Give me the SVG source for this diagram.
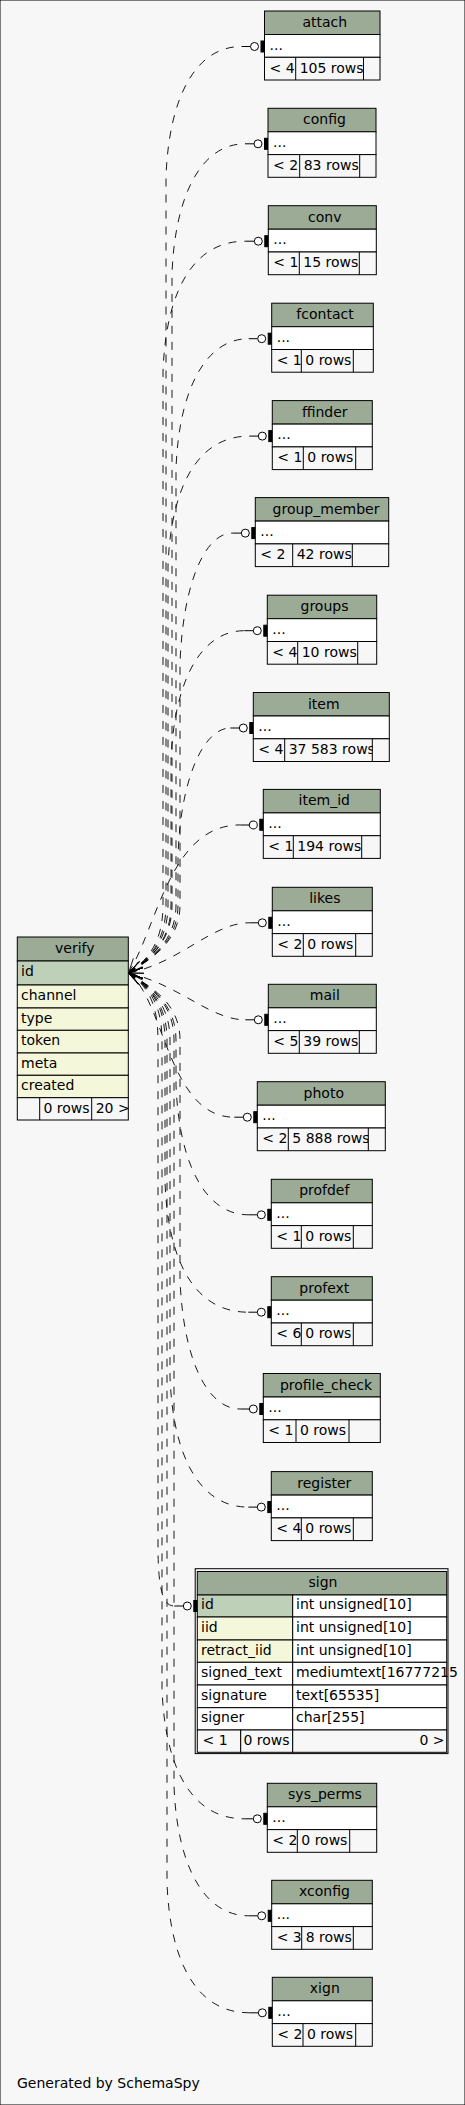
<svg xmlns="http://www.w3.org/2000/svg" width="465" height="2105" viewBox="0 0 465 2105">
<defs>
<style>
text{font-family:"DejaVu Sans","Liberation Sans",sans-serif;font-size:14px;fill:#000}
.c{text-anchor:middle}
.e{text-anchor:end}
rect{stroke:#000;stroke-width:1}
.hd{fill:#9bab96}
.pk{fill:#bed1b8}
.ix{fill:#f4f7da}
.bd{fill:#ffffff}
.ft{fill:#f7f7f7}
line{stroke:#000;stroke-width:1}
.edge{fill:none;stroke:#000;stroke-width:0.9;stroke-dasharray:8,8;marker-start:url(#crow);marker-end:url(#tee)}
</style>
<marker id="tee" markerUnits="userSpaceOnUse" orient="auto" refX="0" refY="0" markerWidth="30" markerHeight="14" viewBox="0 -7 30 14" overflow="visible">
<path d="M0,0H9" stroke="#000" fill="none"/>
<circle cx="13" cy="0" r="4" fill="#fff" stroke="#000" stroke-width="1"/>
<rect x="19.5" y="-5.5" width="3.5" height="11" fill="#000" stroke="none"/>
</marker>
<marker id="crow" markerUnits="userSpaceOnUse" orient="auto" refX="0" refY="0" markerWidth="16" markerHeight="14" viewBox="0 -7 16 14" overflow="visible">
<path d="M0,0L15,-3.5M0,0L15,3.5" stroke="#000" fill="none" stroke-width="0.8"/>
</marker>
<clipPath id="clipItem"><rect x="284.7" y="738.8" width="87.6" height="22.7"/></clipPath>
<clipPath id="clipPhoto"><rect x="288.3" y="1128" width="80" height="22.7"/></clipPath>
</defs>
<rect x="0" y="0" width="465" height="2105" fill="#f7f7f7" stroke="none"/>

<g id="connectors">
<path class="edge" d="M128.5,973 C145,962 166,945 166,905 L166,176.5 C169,96.5 196,46.5 241.5,46.5"/>
<path class="edge" d="M128.5,973 C145,962 172,945 172,905 L172,273.8 C175,193.8 202,143.8 245,143.8"/>
<path class="edge" d="M128.5,973 C145,962 163,945 163,905 L163,371.2 C166,291.2 193,241.2 245.3,241.2"/>
<path class="edge" d="M128.5,973 C145,962 176,945 176,905 L176,468.7 C179,388.7 206,338.7 248.7,338.7"/>
<path class="edge" d="M128.5,973 C145,962 168,945 168,905 L168,566.1 C171,486.1 198,436.1 249.3,436.1"/>
<path class="edge" d="M128.5,973 C145,962 180,945 180,905 L180,663.1 C183,583.1 205,533.1 232.3,533.1"/>
<path class="edge" d="M128.5,973 C145,962 171,945 171,905 L171,760.7 C174,680.7 201,630.7 244.3,630.7"/>
<path class="edge" d="M128.5,973 C145,962 178,945 178,905 L178,858 C180,778 204,728 230.3,728"/>
<path class="edge" d="M128.5,973 C158,925 170,825 240.3,824.9"/>
<path class="edge" d="M128.5,973 C180,963 212,922.8 249.3,922.8"/>
<path class="edge" d="M128.5,973 C180,985 210,1019.8 245.3,1019.8"/>
<path class="edge" d="M128.5,973 C165,1000 168,1117.2 234.3,1117.2"/>
<path class="edge" d="M128.5,973 C145,984 176,1000 176,1040 L176,1084.8 C179,1164.8 206,1214.8 248.3,1214.8"/>
<path class="edge" d="M128.5,973 C145,984 165,1000 165,1040 L165,1182.2 C168,1262.2 195,1312.2 248.3,1312.2"/>
<path class="edge" d="M128.5,973 C145,984 180,1000 180,1040 L180,1279 C183,1359 207,1409 240.3,1409"/>
<path class="edge" d="M128.5,973 C145,984 170,1000 170,1040 L170,1377.1 C173,1457.1 200,1507.1 248.3,1507.1"/>
<path class="edge" d="M128.5,973 C145,984 158,1000 158,1040 L158,1545 C158,1590 163,1606 174.3,1606"/>
<path class="edge" d="M128.5,973 C145,984 162,1000 162,1040 L162,1688.8 C165,1768.8 192,1818.8 244.3,1818.8"/>
<path class="edge" d="M128.5,973 C145,984 174,1000 174,1040 L174,1785.8 C177,1865.8 204,1915.8 248.7,1915.8"/>
<path class="edge" d="M128.5,973 C145,984 167,1000 167,1040 L167,1882.8 C170,1962.8 197,2012.8 249.3,2012.8"/>
</g>

<g id="verify">
<rect class="hd" x="17.3" y="937" width="111" height="24"/>
<rect class="pk" x="17.3" y="961" width="111" height="24"/>
<rect class="ix" x="17.3" y="985" width="111" height="23"/>
<rect class="ix" x="17.3" y="1008" width="111" height="22.3"/>
<rect class="ix" x="17.3" y="1030.3" width="111" height="22.7"/>
<rect class="ix" x="17.3" y="1053" width="111" height="22.3"/>
<rect class="ix" x="17.3" y="1075.3" width="111" height="22.4"/>
<rect class="ft" x="17.3" y="1097.7" width="111" height="22.3"/>
<text class="c" x="74.8" y="953">verify</text>
<text x="21" y="975.5">id</text>
<text x="21" y="999.5">channel</text>
<text x="21" y="1022.5">type</text>
<text x="21" y="1045">token</text>
<text x="21" y="1067.5">meta</text>
<text x="21" y="1090">created</text>
<text x="43.5" y="1112.5">0 rows</text>
<text x="95.7" y="1112.5">20 &gt;</text>
<line x1="39.7" y1="1097.7" x2="39.7" y2="1120"/>
<line x1="91.7" y1="1097.7" x2="91.7" y2="1120"/>
</g>

<g id="attach">
<rect class="hd" x="264.5" y="11" width="115.5" height="23.5"/>
<rect class="bd" x="264.5" y="34.5" width="115.5" height="22.8"/>
<rect class="ft" x="264.5" y="57.3" width="115.5" height="22.7"/>
<text class="c" x="324.8" y="27">attach</text>
<text x="269.5" y="49.5">...</text>
<text x="269.5" y="72.5">&lt; 4</text>
<text x="299.7" y="72.5">105 rows</text>
<line x1="295.7" y1="57.3" x2="295.7" y2="80"/>
<line x1="363.5" y1="57.3" x2="363.5" y2="80"/>
</g>

<g id="config">
<rect class="hd" x="268" y="108.3" width="108" height="23.5"/>
<rect class="bd" x="268" y="131.8" width="108" height="22.8"/>
<rect class="ft" x="268" y="154.6" width="108" height="22.7"/>
<text class="c" x="324.5" y="124.3">config</text>
<text x="273" y="146.8">...</text>
<text x="273" y="169.8">&lt; 2</text>
<text x="303.7" y="169.8">83 rows</text>
<line x1="299.7" y1="154.6" x2="299.7" y2="177.3"/>
<line x1="359.7" y1="154.6" x2="359.7" y2="177.3"/>
</g>

<g id="conv">
<rect class="hd" x="268.3" y="205.7" width="108" height="23.5"/>
<rect class="bd" x="268.3" y="229.2" width="108" height="22.8"/>
<rect class="ft" x="268.3" y="252" width="108" height="22.7"/>
<text class="c" x="324.8" y="221.7">conv</text>
<text x="273.3" y="244.2">...</text>
<text x="273.3" y="267.2">&lt; 1</text>
<text x="303.3" y="267.2">15 rows</text>
<line x1="299.3" y1="252" x2="299.3" y2="274.7"/>
<line x1="359.3" y1="252" x2="359.3" y2="274.7"/>
</g>

<g id="fcontact">
<rect class="hd" x="271.7" y="303.2" width="101.6" height="23.5"/>
<rect class="bd" x="271.7" y="326.7" width="101.6" height="22.8"/>
<rect class="ft" x="271.7" y="349.5" width="101.6" height="22.7"/>
<text class="c" x="325" y="319.2">fcontact</text>
<text x="276.7" y="341.7">...</text>
<text x="276.7" y="364.7">&lt; 1</text>
<text x="305.3" y="364.7">0 rows</text>
<line x1="301.3" y1="349.5" x2="301.3" y2="372.2"/>
<line x1="353.3" y1="349.5" x2="353.3" y2="372.2"/>
</g>

<g id="ffinder">
<rect class="hd" x="272.3" y="400.6" width="100" height="23.5"/>
<rect class="bd" x="272.3" y="424.1" width="100" height="22.8"/>
<rect class="ft" x="272.3" y="446.9" width="100" height="22.7"/>
<text class="c" x="324.8" y="416.6">ffinder</text>
<text x="277.3" y="439.1">...</text>
<text x="277.3" y="462.1">&lt; 1</text>
<text x="307.3" y="462.1">0 rows</text>
<line x1="303.3" y1="446.9" x2="303.3" y2="469.6"/>
<line x1="355.7" y1="446.9" x2="355.7" y2="469.6"/>
</g>

<g id="group_member">
<rect class="hd" x="255.3" y="497.6" width="133.4" height="23.5"/>
<rect class="bd" x="255.3" y="521.1" width="133.4" height="22.8"/>
<rect class="ft" x="255.3" y="543.9" width="133.4" height="22.7"/>
<text class="c" x="326" y="513.6">group_member</text>
<text x="260.3" y="536.1">...</text>
<text x="260.3" y="559.1">&lt; 2</text>
<text x="296.7" y="559.1">42 rows</text>
<line x1="292.7" y1="543.9" x2="292.7" y2="566.6"/>
<line x1="352.3" y1="543.9" x2="352.3" y2="566.6"/>
</g>

<g id="groups">
<rect class="hd" x="267.3" y="595.2" width="109.4" height="23.5"/>
<rect class="bd" x="267.3" y="618.7" width="109.4" height="22.8"/>
<rect class="ft" x="267.3" y="641.5" width="109.4" height="22.7"/>
<text class="c" x="324.5" y="611.2">groups</text>
<text x="272.3" y="633.7">...</text>
<text x="272.3" y="656.7">&lt; 4</text>
<text x="301.7" y="656.7">10 rows</text>
<line x1="297.7" y1="641.5" x2="297.7" y2="664.2"/>
<line x1="357.7" y1="641.5" x2="357.7" y2="664.2"/>
</g>

<g id="item">
<rect class="hd" x="253.3" y="692.5" width="136" height="23.5"/>
<rect class="bd" x="253.3" y="716" width="136" height="22.8"/>
<rect class="ft" x="253.3" y="738.8" width="136" height="22.7"/>
<text class="c" x="323.8" y="708.5">item</text>
<text x="258.3" y="731">...</text>
<text x="258.3" y="754">&lt; 4</text>
<text x="288.7" y="754" clip-path="url(#clipItem)">37 583 rows</text>
<line x1="284.7" y1="738.8" x2="284.7" y2="761.5"/>
<line x1="372.3" y1="738.8" x2="372.3" y2="761.5"/>
</g>

<g id="item_id">
<rect class="hd" x="263.3" y="789.4" width="117" height="23.5"/>
<rect class="bd" x="263.3" y="812.9" width="117" height="22.8"/>
<rect class="ft" x="263.3" y="835.7" width="117" height="22.7"/>
<text class="c" x="324.3" y="805.4">item_id</text>
<text x="268.3" y="827.9">...</text>
<text x="268.3" y="850.9">&lt; 1</text>
<text x="297.3" y="850.9">194 rows</text>
<line x1="293.3" y1="835.7" x2="293.3" y2="858.4"/>
<line x1="361.7" y1="835.7" x2="361.7" y2="858.4"/>
</g>

<g id="likes">
<rect class="hd" x="272.3" y="887.3" width="100" height="23.5"/>
<rect class="bd" x="272.3" y="910.8" width="100" height="22.8"/>
<rect class="ft" x="272.3" y="933.6" width="100" height="22.7"/>
<text class="c" x="324.8" y="903.3">likes</text>
<text x="277.3" y="925.8">...</text>
<text x="277.3" y="948.8">&lt; 2</text>
<text x="307.3" y="948.8">0 rows</text>
<line x1="303.3" y1="933.6" x2="303.3" y2="956.3"/>
<line x1="355.7" y1="933.6" x2="355.7" y2="956.3"/>
</g>

<g id="mail">
<rect class="hd" x="268.3" y="984.3" width="108" height="23.5"/>
<rect class="bd" x="268.3" y="1007.8" width="108" height="22.8"/>
<rect class="ft" x="268.3" y="1030.6" width="108" height="22.7"/>
<text class="c" x="324.8" y="1000.3">mail</text>
<text x="273.3" y="1022.8">...</text>
<text x="273.3" y="1045.8">&lt; 5</text>
<text x="303.3" y="1045.8">39 rows</text>
<line x1="299.3" y1="1030.6" x2="299.3" y2="1053.3"/>
<line x1="359.3" y1="1030.6" x2="359.3" y2="1053.3"/>
</g>

<g id="photo">
<rect class="hd" x="257.3" y="1081.7" width="128" height="23.5"/>
<rect class="bd" x="257.3" y="1105.2" width="128" height="22.8"/>
<rect class="ft" x="257.3" y="1128" width="128" height="22.7"/>
<text class="c" x="323.8" y="1097.7">photo</text>
<text x="262.3" y="1120.2">...</text>
<text x="262.3" y="1143.2">&lt; 2</text>
<text x="292.3" y="1143.2" clip-path="url(#clipPhoto)">5 888 rows</text>
<line x1="288.3" y1="1128" x2="288.3" y2="1150.7"/>
<line x1="368.3" y1="1128" x2="368.3" y2="1150.7"/>
</g>

<g id="profdef">
<rect class="hd" x="271.3" y="1179.3" width="101" height="23.5"/>
<rect class="bd" x="271.3" y="1202.8" width="101" height="22.8"/>
<rect class="ft" x="271.3" y="1225.6" width="101" height="22.7"/>
<text class="c" x="324.3" y="1195.3">profdef</text>
<text x="276.3" y="1217.8">...</text>
<text x="276.3" y="1240.8">&lt; 1</text>
<text x="305.3" y="1240.8">0 rows</text>
<line x1="301.3" y1="1225.6" x2="301.3" y2="1248.3"/>
<line x1="353.3" y1="1225.6" x2="353.3" y2="1248.3"/>
</g>

<g id="profext">
<rect class="hd" x="271.3" y="1276.7" width="101" height="23.5"/>
<rect class="bd" x="271.3" y="1300.2" width="101" height="22.8"/>
<rect class="ft" x="271.3" y="1323" width="101" height="22.7"/>
<text class="c" x="324.3" y="1292.7">profext</text>
<text x="276.3" y="1315.2">...</text>
<text x="276.3" y="1338.2">&lt; 6</text>
<text x="305.3" y="1338.2">0 rows</text>
<line x1="301.3" y1="1323" x2="301.3" y2="1345.7"/>
<line x1="353.3" y1="1323" x2="353.3" y2="1345.7"/>
</g>

<g id="profile_check">
<rect class="hd" x="263.3" y="1373.5" width="117" height="23.5"/>
<rect class="bd" x="263.3" y="1397" width="117" height="22.8"/>
<rect class="ft" x="263.3" y="1419.8" width="117" height="22.7"/>
<text class="c" x="326" y="1389.5">profile_check</text>
<text x="268.3" y="1412">...</text>
<text x="268.3" y="1435">&lt; 1</text>
<text x="300" y="1435">0 rows</text>
<line x1="296" y1="1419.8" x2="296" y2="1442.5"/>
<line x1="349" y1="1419.8" x2="349" y2="1442.5"/>
</g>

<g id="register">
<rect class="hd" x="271.3" y="1471.6" width="101" height="23.5"/>
<rect class="bd" x="271.3" y="1495.1" width="101" height="22.8"/>
<rect class="ft" x="271.3" y="1517.9" width="101" height="22.7"/>
<text class="c" x="324.3" y="1487.6">register</text>
<text x="276.3" y="1510.1">...</text>
<text x="276.3" y="1533.1">&lt; 4</text>
<text x="305.3" y="1533.1">0 rows</text>
<line x1="301.3" y1="1517.9" x2="301.3" y2="1540.6"/>
<line x1="353.3" y1="1517.9" x2="353.3" y2="1540.6"/>
</g>

<g id="sign">
<rect x="195.2" y="1568.7" width="252.8" height="184.9" fill="none" stroke="#000" stroke-width="3"/>
<rect class="hd" x="197.3" y="1571.5" width="249.4" height="23.5"/>
<rect class="pk" x="197.3" y="1595" width="95.4" height="22"/>
<rect class="bd" x="292.7" y="1595" width="154" height="22"/>
<rect class="ix" x="197.3" y="1617" width="95.4" height="23"/>
<rect class="bd" x="292.7" y="1617" width="154" height="23"/>
<rect class="ix" x="197.3" y="1640" width="95.4" height="22.3"/>
<rect class="bd" x="292.7" y="1640" width="154" height="22.3"/>
<rect class="bd" x="197.3" y="1662.3" width="95.4" height="22.7"/>
<rect class="bd" x="292.7" y="1662.3" width="154" height="22.7"/>
<rect class="bd" x="197.3" y="1685" width="95.4" height="22.7"/>
<rect class="bd" x="292.7" y="1685" width="154" height="22.7"/>
<rect class="bd" x="197.3" y="1707.7" width="95.4" height="22.3"/>
<rect class="bd" x="292.7" y="1707.7" width="154" height="22.3"/>
<rect class="ft" x="197.3" y="1730" width="43.4" height="22.3"/>
<rect class="ft" x="240.7" y="1730" width="52" height="22.3"/>
<rect class="ft" x="292.7" y="1730" width="154" height="22.3"/>
<text class="c" x="323" y="1587">sign</text>
<text x="201" y="1609">id</text>
<text x="296" y="1609">int unsigned[10]</text>
<text x="201" y="1631.5">iid</text>
<text x="296" y="1631.5">int unsigned[10]</text>
<text x="201" y="1654.5">retract_iid</text>
<text x="296" y="1654.5">int unsigned[10]</text>
<text x="201" y="1677">signed_text</text>
<text x="296" y="1677">mediumtext[16777215</text>
<text x="201" y="1699.5">signature</text>
<text x="296" y="1699.5">text[65535]</text>
<text x="201" y="1722">signer</text>
<text x="296" y="1722">char[255]</text>
<text x="202.5" y="1745">&lt; 1</text>
<text x="243.5" y="1745">0 rows</text>
<text class="e" x="444.5" y="1745">0 &gt;</text>
</g>

<g id="sys_perms">
<rect class="hd" x="267.3" y="1783.3" width="109.4" height="23.5"/>
<rect class="bd" x="267.3" y="1806.8" width="109.4" height="22.8"/>
<rect class="ft" x="267.3" y="1829.6" width="109.4" height="22.7"/>
<text class="c" x="325" y="1799.3">sys_perms</text>
<text x="272.3" y="1821.8">...</text>
<text x="272.3" y="1844.8">&lt; 2</text>
<text x="301.3" y="1844.8">0 rows</text>
<line x1="297.3" y1="1829.6" x2="297.3" y2="1852.3"/>
<line x1="349.7" y1="1829.6" x2="349.7" y2="1852.3"/>
</g>

<g id="xconfig">
<rect class="hd" x="271.7" y="1880.3" width="100.6" height="23.5"/>
<rect class="bd" x="271.7" y="1903.8" width="100.6" height="22.8"/>
<rect class="ft" x="271.7" y="1926.6" width="100.6" height="22.7"/>
<text class="c" x="324.5" y="1896.3">xconfig</text>
<text x="276.7" y="1918.8">...</text>
<text x="276.7" y="1941.8">&lt; 3</text>
<text x="305.7" y="1941.8">8 rows</text>
<line x1="301.7" y1="1926.6" x2="301.7" y2="1949.3"/>
<line x1="353.3" y1="1926.6" x2="353.3" y2="1949.3"/>
</g>

<g id="xign">
<rect class="hd" x="272.3" y="1977.3" width="100" height="23.5"/>
<rect class="bd" x="272.3" y="2000.8" width="100" height="22.8"/>
<rect class="ft" x="272.3" y="2023.6" width="100" height="22.7"/>
<text class="c" x="324.8" y="1993.3">xign</text>
<text x="277.3" y="2015.8">...</text>
<text x="277.3" y="2038.8">&lt; 2</text>
<text x="307" y="2038.8">0 rows</text>
<line x1="303" y1="2023.6" x2="303" y2="2046.3"/>
<line x1="355.7" y1="2023.6" x2="355.7" y2="2046.3"/>
</g>

<text x="17" y="2088">Generated by SchemaSpy</text>
</svg>
